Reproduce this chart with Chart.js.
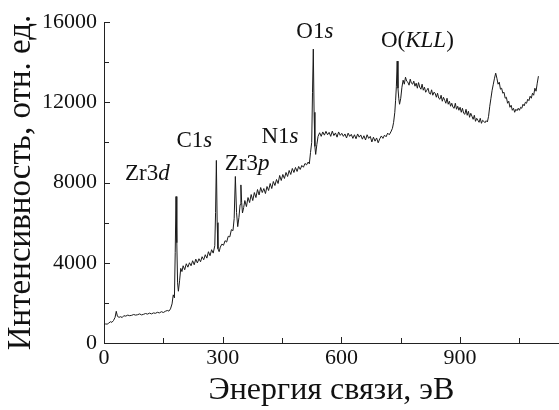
<!DOCTYPE html>
<html>
<head>
<meta charset="utf-8">
<script src="https://cdn.jsdelivr.net/npm/chart.js@4.4.0/dist/chart.umd.min.js"></script>
<style>
html,body{margin:0;padding:0;background:#fff;}
#xps{display:block;}
</style>
</head>
<body>
<canvas id="xps" width="559" height="410"></canvas>
<script>
// binding energy, eV
var energy = [
    0,4,8,12,16,20,24,28,31,34,
    38,42,46,50,55,60,65,70,75,80,
    85,90,95,100,105,110,115,120,125,130,
    135,140,145,150,155,160,164,168,172,175,
    178,180,182,184,186,188,191,194,197,200,
    204,208,212,216,220,224,228,232,236,240,
    244,248,252,256,260,264,268,272,276,280,
    282,284,286,288,291,294,298,302,306,310,
    314,318,322,326,329,332,335,338,341,344,
    346,348,350,353,356,360,364,368,372,376,
    380,384,388,392,396,400,404,408,412,416,
    420,424,428,432,436,440,444,448,452,456,
    460,464,468,472,476,480,484,488,492,496,
    500,504,508,512,516,519,522,525,527,529,
    531,533,535,538,541,545,549,553,557,561,
    565,569,573,577,581,585,589,593,597,601,
    605,609,613,617,621,625,629,633,637,641,
    645,649,653,657,661,665,669,673,677,681,
    685,689,693,697,701,705,709,713,717,721,
    725,729,732,735,737,739,741,743,745,747,
    750,753,756,759,762,765,768,771,774,777,
    780,783,786,789,792,795,798,801,804,807,
    810,813,816,819,822,825,828,831,834,837,
    840,843,846,849,852,855,858,861,864,867,
    870,873,876,879,882,885,888,891,894,897,
    900,903,906,909,912,915,918,921,924,927,
    930,933,936,939,942,945,948,951,954,957,
    960,963,966,969,972,975,978,981,984,987,
    990,993,996,999,1002,1005,1008,1011,1014,1017,
    1020,1023,1026,1029,1032,1035,1038,1041,1044,1047,
    1050,1053,1056,1059,1062,1065,1068,1071,1074,1077,
    1080,1083,1086,1089,1092,1095,1098
];
// intensity, arb. units
var intensity = [
    900,950,940,990,1060,1030,1120,1280,1580,1330,
    1280,1310,1270,1360,1340,1390,1360,1380,1420,1390,
    1410,1450,1400,1430,1470,1440,1490,1450,1500,1480,
    1530,1500,1560,1520,1580,1620,1590,1700,1950,2400,
    2250,4500,7300,5000,3000,2580,3100,3720,3560,3850,
    3650,3950,3780,4000,3850,4100,3900,4180,3990,4200,
    4050,4300,4150,4400,4230,4550,4350,4650,4480,4850,
    6500,9100,6000,4700,4550,4780,4930,4870,5100,5030,
    5320,5290,5650,5600,6200,8300,6500,5800,6250,6900,
    7880,7000,6480,6750,7100,6800,7250,7000,7400,7100,
    7500,7250,7650,7380,7750,7500,7700,7450,7800,7600,
    7950,7700,8050,7850,8150,7950,8350,8100,8400,8200,
    8500,8300,8600,8400,8700,8500,8750,8550,8800,8650,
    8850,8760,8950,8880,9020,8930,9500,10000,12500,14650,
    11500,9800,9400,9900,10300,10480,10300,10520,10360,10550,
    10380,10500,10300,10560,10340,10470,10260,10520,10350,10450,
    10300,10420,10220,10460,10300,10400,10200,10380,10180,10420,
    10260,10370,10160,10330,10120,10380,10200,10300,10020,10260,
    10060,10220,9980,10180,10320,10200,10360,10280,10460,10380,
    10520,10700,11000,11500,12100,12800,14050,12700,12200,11900,
    12200,12750,13100,12900,13250,13050,13000,12850,13150,12950,
    12900,13050,12800,12950,12700,12980,12750,12650,12900,12600,
    12750,12500,12600,12700,12450,12400,12620,12350,12500,12450,
    12250,12450,12200,12150,12350,12050,12250,12100,11950,12200,
    11900,12050,11800,11950,11750,11700,11950,11650,11800,11600,
    11750,11500,11700,11450,11400,11650,11350,11550,11250,11450,
    11300,11150,11350,11050,11200,11100,11000,11200,10950,11100,
    11050,10980,11080,11020,11300,11800,12200,12600,12900,13200,
    13450,13200,12900,13000,12650,12700,12450,12500,12200,12250,
    11950,12050,11750,11850,11600,11700,11500,11650,11580,11700,
    11600,11750,11700,11900,11820,12000,11950,12150,12080,12300,
    12200,12450,12350,12700,12550,12950,13300
];

// peak labels: text with italic parts between '|', anchored at (energy, intensity)
var peakText = ['Zr3|d', 'C1|s', 'Zr3|p', 'N1|s', 'O1|s', 'O(|KLL|)'];
var peakE = [53, 183, 305, 398, 486, 700];
var peakI = [8130, 9790, 8630, 9960, 15190, 14770];

var serif = "'Liberation Serif', Tinos, 'Times New Roman', Times, serif";

var tickMarks = {
    id: 'tickMarks',
    afterDraw: function(chart) {
        var ctx = chart.ctx, sx = chart.scales.x, sy = chart.scales.y, a = chart.chartArea;
        ctx.save();
        ctx.strokeStyle = '#222';
        ctx.lineWidth = 1;
        sx.ticks.forEach(function(t) {
            var px = Math.round(sx.getPixelForValue(t.value)) + 0.5;
            var len = t.value % 300 === 0 ? 6 : 5;
            ctx.beginPath(); ctx.moveTo(px, a.bottom); ctx.lineTo(px, a.bottom - len); ctx.stroke();
        });
        sy.ticks.forEach(function(t) {
            var py = Math.round(sy.getPixelForValue(t.value)) + 0.5;
            var len = t.value % 4000 === 0 ? 6 : 5;
            ctx.beginPath(); ctx.moveTo(a.left, py); ctx.lineTo(a.left + len, py); ctx.stroke();
        });
        ctx.restore();
    }
};

var peakLabels = {
    id: 'peakLabels',
    afterDatasetsDraw: function(chart) {
        var ctx = chart.ctx, sx = chart.scales.x, sy = chart.scales.y;
        ctx.save();
        ctx.fillStyle = '#111';
        ctx.textBaseline = 'alphabetic';
        ctx.textAlign = 'left';
        for (var i = 0; i < peakText.length; i++) {
            var px = sx.getPixelForValue(peakE[i]);
            var py = sy.getPixelForValue(peakI[i]);
            var parts = peakText[i].split('|');
            for (var j = 0; j < parts.length; j++) {
                ctx.font = (j % 2 ? 'italic ' : '') + '23px ' + serif;
                ctx.fillText(parts[j], px, py);
                px += ctx.measureText(parts[j]).width;
            }
        }
        ctx.restore();
    }
};

function drawChart() {
    var ctx = document.getElementById('xps').getContext('2d');
    return new Chart(ctx, {
        type: 'line',
        data: {
            datasets: [{
                data: energy.map(function(e, i) { return {x: e, y: intensity[i]}; }),
                borderColor: '#1a1a1a',
                borderWidth: 1,
                pointRadius: 0,
                tension: 0,
                fill: false
            }]
        },
        options: {
            responsive: false,
            animation: false,
            events: [],
            layout: {padding: {top: 22, right: 0, left: 0, bottom: 0}},
            plugins: {legend: {display: false}, tooltip: {enabled: false}},
            scales: {
                x: {
                    type: 'linear',
                    min: 0,
                    max: 1150,
                    grid: {display: false, drawTicks: false},
                    border: {display: true, color: '#222', width: 1},
                    ticks: {
                        stepSize: 150,
                        includeBounds: false,
                        maxRotation: 0,
                        autoSkip: false,
                        padding: 2,
                        color: '#111',
                        font: {family: serif, size: 22},
                        callback: function(v) { return v % 300 === 0 ? v : ''; }
                    },
                    title: {
                        display: true,
                        text: 'Энергия связи, эВ',
                        color: '#111',
                        font: {family: serif, size: 32},
                        padding: {top: 0, bottom: 0}
                    },
                    afterFit: function(s) { s.height = 67; }
                },
                y: {
                    type: 'linear',
                    min: 0,
                    max: 16000,
                    grid: {display: false, drawTicks: false},
                    border: {display: true, color: '#222', width: 1},
                    ticks: {
                        stepSize: 2000,
                        autoSkip: false,
                        padding: 7,
                        color: '#111',
                        font: {family: serif, size: 22},
                        callback: function(v) { return v % 4000 === 0 ? v : ''; }
                    },
                    title: {
                        display: true,
                        text: 'Интенсивность, отн. ед.',
                        color: '#111',
                        font: {family: serif, size: 33},
                        padding: {top: 2, bottom: 0}
                    },
                    afterFit: function(s) { s.width = 104; }
                }
            }
        },
        plugins: [tickMarks, peakLabels]
    });
}

var chart;
if (document.fonts && document.fonts.load) {
    Promise.all([
        document.fonts.load("22px 'Liberation Serif'"),
        document.fonts.load("italic 22px 'Liberation Serif'")
    ]).then(function() { chart = drawChart(); }, function() { chart = drawChart(); });
} else {
    chart = drawChart();
}
</script>
</body>
</html>
